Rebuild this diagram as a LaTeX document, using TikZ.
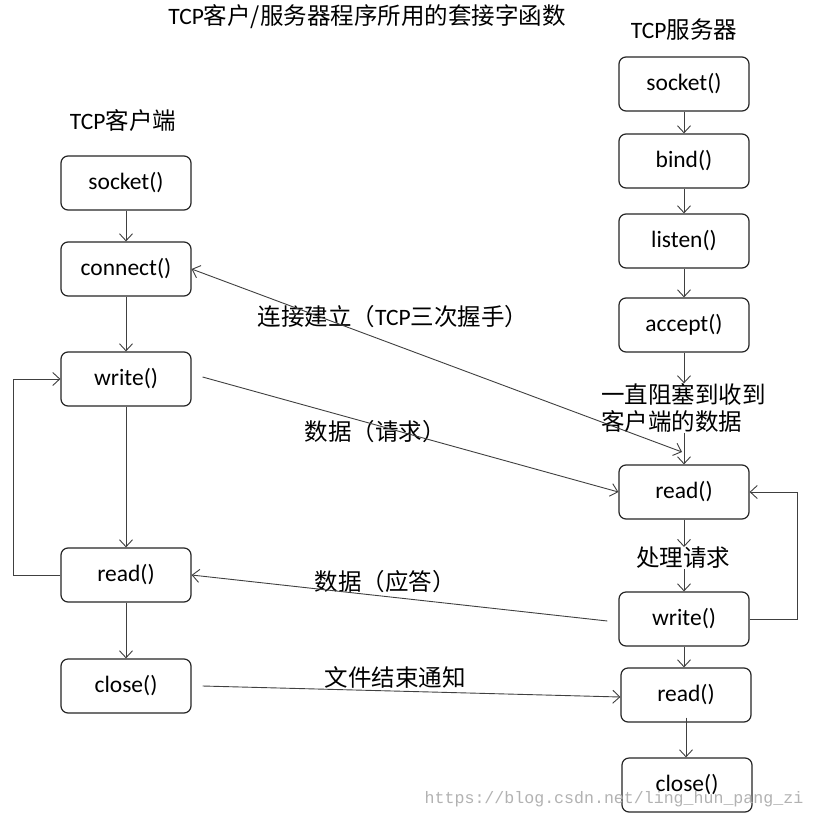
\documentclass[tikz,border=0pt]{standalone}
\usepackage{fontspec}
\setmainfont{Carlito}
\newfontfamily\cjk{Noto Sans CJK SC}
\newfontfamily\wmfont{Liberation Mono}
\usetikzlibrary{arrows.meta}
\begin{document}
\begin{tikzpicture}[x=1pt,y=-1pt,
  fn/.style={draw=black!85, line width=1.2pt, rounded corners=7pt, minimum width=130pt, minimum height=54pt, inner sep=0pt, font=\fontsize{23.5}{26}\selectfont},
  lbl/.style={inner sep=0pt, font=\fontsize{23.5}{27}\selectfont\cjk},
  conn/.style={draw=black!75, line width=0.9pt, -{Straight Barb[length=7pt,width=13pt]}},
  biconn/.style={draw=black!75, line width=0.9pt, {Straight Barb[length=7pt,width=13pt]}-{Straight Barb[length=7pt,width=13pt]}}
]
\path[fill=white, use as bounding box] (0,0) rectangle (816,819);

% titles
\node[lbl] (title) at (367,17) {{\rmfamily TCP}客户/服务器程序所用的套接字函数};
\node[lbl] (tsrv) at (684,30) {{\rmfamily TCP}服务器};
\node[lbl] (tcli) at (123,121) {{\rmfamily TCP}客户端};

% client column
\node[fn] (cs) at (126,183) {socket()};
\node[fn] (cc) at (126,269) {connect()};
\node[fn] (cw) at (126,379) {write()};
\node[fn] (cr) at (126,575) {read()};
\node[fn] (ccl) at (126,686) {close()};

% server column
\node[fn] (ss) at (684,84) {socket()};
\node[fn] (sb) at (684,161) {bind()};
\node[fn] (sl) at (684,241) {listen()};
\node[fn] (sa) at (684,325) {accept()};
\node[fn] (sr) at (684,492) {read()};
\node[fn] (sw) at (684,619) {write()};
\node[fn] (sr2) at (686,695) {read()};
\node[fn] (scl) at (687,785) {close()};

% labels
\node[lbl, align=left, anchor=west] (blk) at (601,408) {一直阻塞到收到\\客户端的数据};
\node[lbl] (proc) at (683,558) {处理请求};
\node[lbl] (hs) at (393,317) {连接建立（{\rmfamily TCP}三次握手）};
\node[lbl] (req) at (375,432) {数据（请求）};
\node[lbl] (rsp) at (385,582) {数据（应答）};
\node[lbl] (eof) at (395,677) {文件结束通知};

% client vertical arrows
\draw[conn] (cs) -- (cc);
\draw[conn] (cc) -- (cw);
\draw[conn] (cw) -- (cr);
\draw[conn] (cr) -- (ccl);
\draw[conn] (cr.west) -- ++(-47,0) |- (cw.west);

% server vertical arrows
\draw[conn] (ss) -- (sb);
\draw[conn] (sb) -- (sl);
\draw[conn] (sl) -- (sa);
\draw[conn] (sa.south) -- (sa.south |- blk.north);
\draw[conn] (sr.north |- blk.south) -- (sr.north);
\draw[conn] (sr.south) -- (sr.south |- proc.north);
\draw[conn] (sw.north |- proc.south) -- (sw.north);
\draw[conn] (sw.south) -- (sw.south |- sr2.north);
\draw[conn] ([yshift=5pt]sr2.south) -- (sr2.south |- scl.north);
\draw[conn] (sw.east) -- ++(48,0) |- (sr.east);

% cross connectors
\coordinate (hsend) at (682,452);
\draw[biconn] (cc.east) -- (hsend);
\draw[conn] ([xshift=11pt,yshift=2pt]cw.east) -- (sr.west);
\draw[conn] ([xshift=-11pt,yshift=-2pt]sw.west) -- (cr.east);
\draw[conn] ([xshift=11pt]ccl.east) -- ([yshift=-2pt]sr2.west);

% watermark
\node[inner sep=0pt, text=black!30, font=\fontsize{16.6}{18}\selectfont\wmfont] (wm) at (614,799) {https://blog.csdn.net/ling\_hun\_pang\_zi};
\end{tikzpicture}
\end{document}
